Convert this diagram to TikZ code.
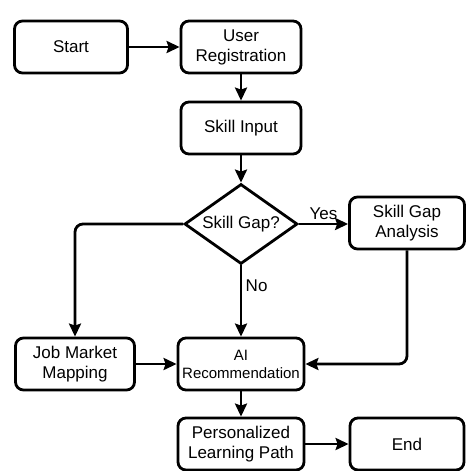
\documentclass[tikz,border=0pt]{standalone}
\usepackage{fontspec}
\setmainfont{Liberation Sans}
\usetikzlibrary{arrows.meta,shapes.geometric}

\begin{document}
\begin{tikzpicture}[x=1pt,y=-1pt]
    \pgfmathsetmacro{\w}{120}	%box width
	\pgfmathsetmacro{\h}{52}	%box height
	\pgfmathsetmacro{\lw}{2.8}	%line width

    \tikzset{
        stepbox/.style={draw, line width=\lw pt, rounded corners=8pt, minimum width=\w pt, minimum height=\h pt, align=center, inner sep=2pt, font=\fontsize{17}{20}\selectfont},
        decision/.style={draw, diamond, line width=\lw pt, aspect=1.41, inner sep=0pt, minimum width=113pt, minimum height=80pt, font=\fontsize{17}{20}\selectfont},
        flow/.style={line width=\lw pt, rounded corners=8pt, -{Stealth[length=13pt,width=12pt,inset=2pt]}},
        lbl/.style={font=\fontsize{17}{20}\selectfont}
    };

    \useasboundingbox (0,0) rectangle (467,471);

    \node[stepbox, minimum width=113pt] (start) at (71,47) {Start};
    \node[stepbox] (reg) at (241,47) {User\\Registration};
    \node[stepbox] (input) at (241,128) {Skill Input};
    \node[decision] (gap) at (241,224) {Skill Gap?};
    \node[stepbox, minimum width=115pt] (analysis) at (407,223) {Skill Gap\\Analysis};
    \node[stepbox, minimum width=119pt] (market) at (75,364) {Job Market\\Mapping};
    \node[stepbox, minimum width=126pt, font=\fontsize{15}{18}\selectfont] (ai) at (241,364) {AI\\Recommendation};
    \node[stepbox, minimum width=126pt] (path) at (241,444) {Personalized\\Learning Path};
    \node[stepbox, minimum width=114pt] (end) at (407,444) {End};

    \draw[flow] (start) -- (reg);
    \draw[flow] (reg) -- (input);
    \draw[flow] (input) -- (gap);
    \draw[flow] (gap.east) -- node[lbl, above] {Yes} (gap.east -| analysis.west);
    \draw[flow] (gap.south) -- node[lbl, right, pos=0.28] {No} (ai.north);
    \draw[flow] (gap.west) -| (market.north);
    \draw[flow] (analysis.south) |- (ai.east);
    \draw[flow] (market) -- (ai);
    \draw[flow] (ai) -- (path);
    \draw[flow] (path) -- (end);
\end{tikzpicture}
\end{document}
